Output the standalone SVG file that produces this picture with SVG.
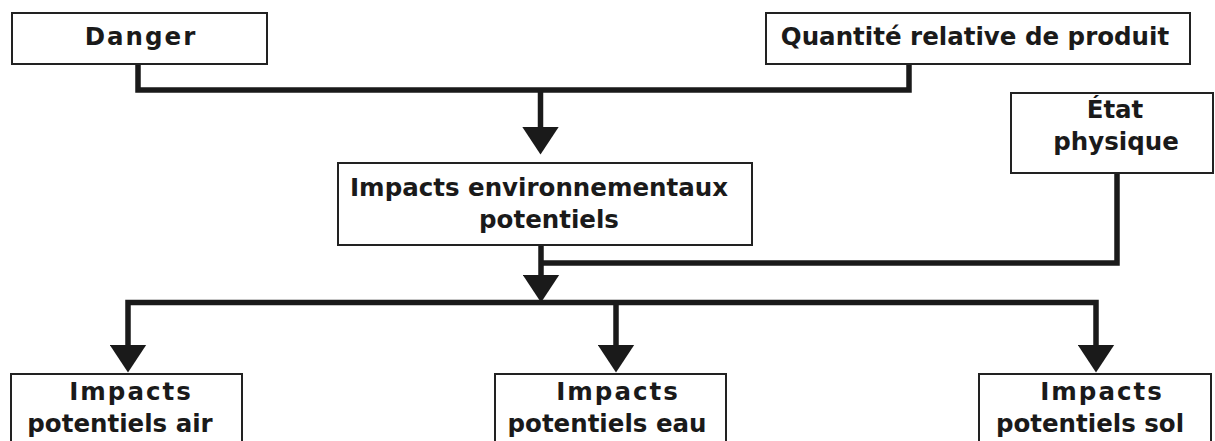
<svg xmlns="http://www.w3.org/2000/svg" width="1215" height="441" viewBox="0 0 1215 441">
<style>
.box{fill:#fff;stroke:#222;stroke-width:2}
.t{font-family:"DejaVu Sans","Verdana",sans-serif;font-weight:bold;font-size:24.5px;fill:#1a1a1a;text-anchor:middle}
.c{fill:none;stroke:#1a1a1a;stroke-width:5.5;stroke-linejoin:miter}
</style>
<defs>
<marker id="ah" markerUnits="userSpaceOnUse" markerWidth="28" markerHeight="37" viewBox="0 0 28 37" refX="0.5" refY="18.5" orient="auto">
<polygon points="0,0 28,18.5 0,37" fill="#1a1a1a"/>
</marker>
</defs>
<rect width="1215" height="441" fill="#fff"/>
<g id="connectors">
<path class="c" d="M138,64 V90 H909 V64"/>
<path class="c" d="M540.5,90 V127" marker-end="url(#ah)"/>
<path class="c" d="M541,245 V275" marker-end="url(#ah)"/>
<path class="c" d="M1117,173 V263 H541"/>
<path class="c" d="M541,302.5 H128 V345" marker-end="url(#ah)"/>
<path class="c" d="M541,302.5 H1096 V345" marker-end="url(#ah)"/>
<path class="c" d="M616,302.5 V345" marker-end="url(#ah)"/>
</g>
<g id="danger">
<rect class="box" x="12" y="13" width="255" height="51"/>
<text class="t" x="141" y="45" letter-spacing="2">Danger</text>
</g>
<g id="quantite">
<rect class="box" x="766" y="13" width="424" height="51"/>
<text class="t" x="975" y="45">Quantité relative de produit</text>
</g>
<g id="etat">
<rect class="box" x="1011" y="93" width="202" height="80"/>
<text class="t" x="1115" y="118">État</text>
<text class="t" x="1116" y="150">physique</text>
</g>
<g id="impacts-env">
<rect class="box" x="338" y="163" width="414" height="82"/>
<text class="t" x="539" y="196">Impacts environnementaux</text>
<text class="t" x="549" y="228">potentiels</text>
</g>
<g id="impacts-air">
<rect class="box" x="11" y="374" width="231" height="80"/>
<text class="t" x="131" y="400" letter-spacing="2">Impacts</text>
<text class="t" x="120" y="432">potentiels air</text>
</g>
<g id="impacts-eau">
<rect class="box" x="495" y="374" width="231" height="80"/>
<text class="t" x="618" y="400" letter-spacing="2">Impacts</text>
<text class="t" x="607" y="432">potentiels eau</text>
</g>
<g id="impacts-sol">
<rect class="box" x="979" y="374" width="232" height="80"/>
<text class="t" x="1102" y="400" letter-spacing="2">Impacts</text>
<text class="t" x="1090" y="432">potentiels sol</text>
</g>
</svg>
